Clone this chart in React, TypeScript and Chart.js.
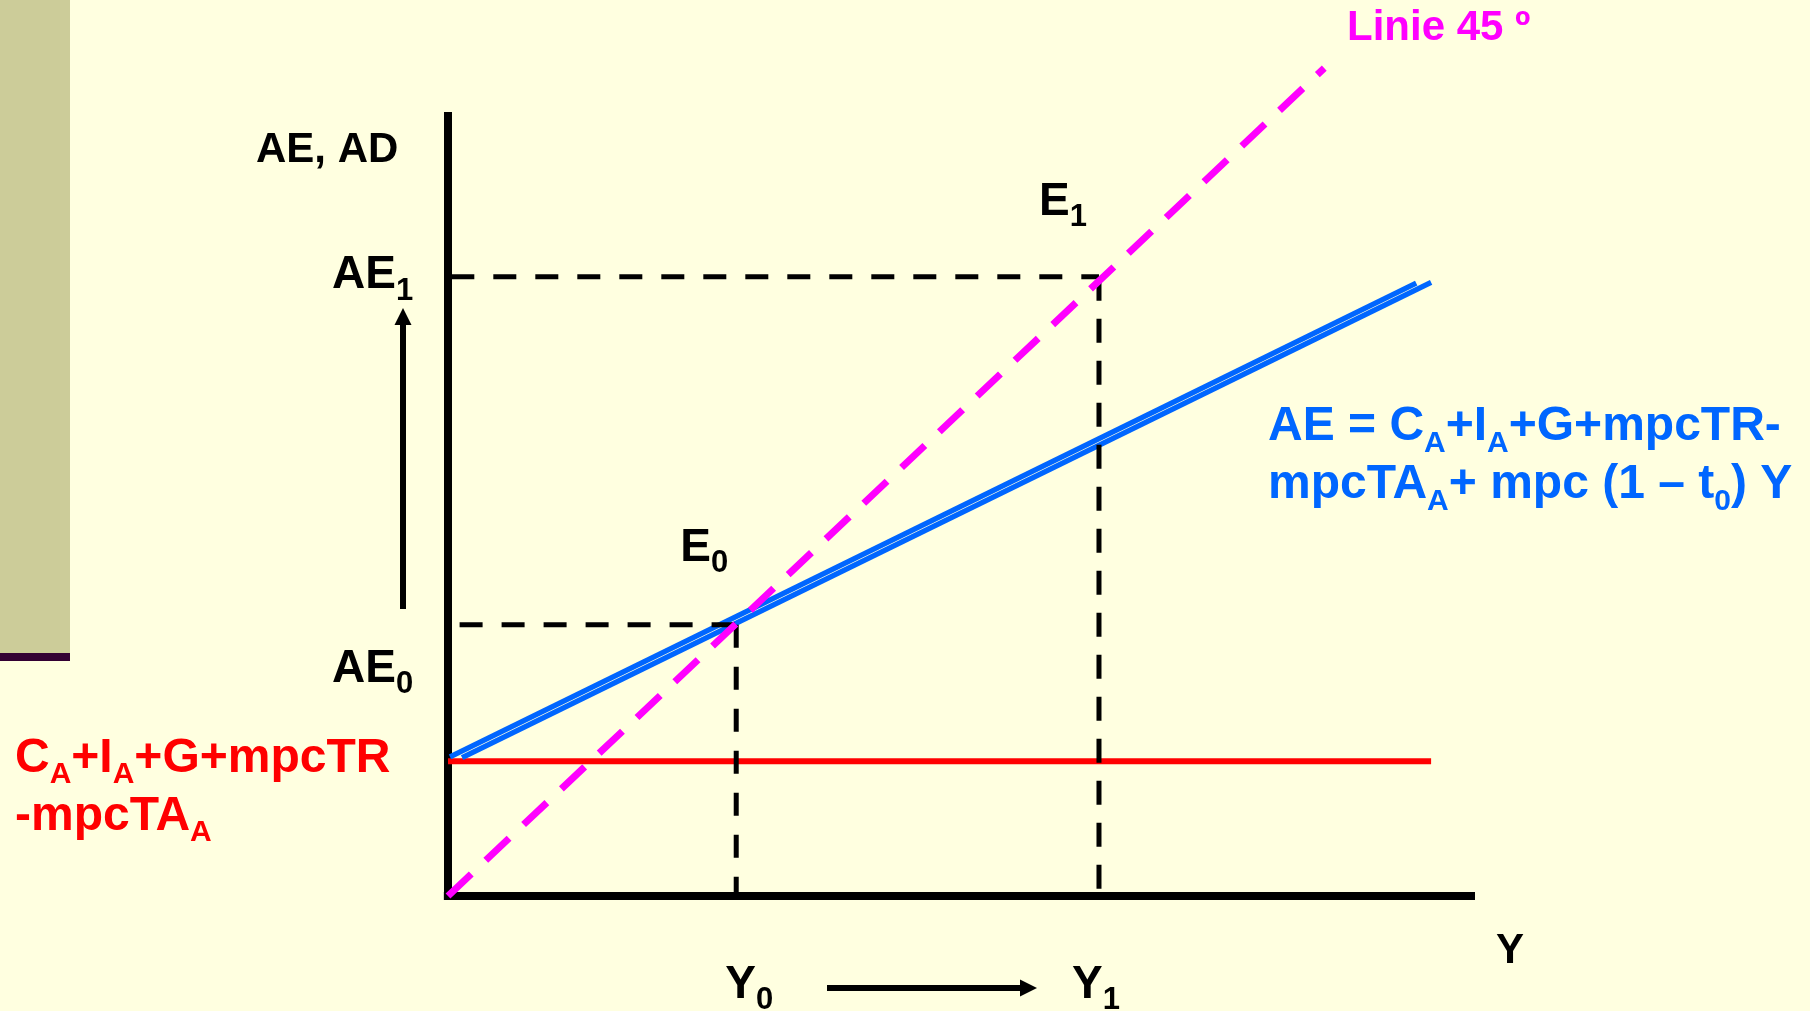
import React, { useEffect, useRef } from "react";
import { Chart, registerables } from "chart.js";

Chart.register(...registerables);

// ---- scale ranges (arbitrary output / expenditure units) ----
const X_MAX = 124;
const Y_MAX = 100;

// ---- equilibrium values ----
const Y0 = 34.8;
const AE0 = 34.6;
const Y1 = 78.6;
const AE1 = 79.0;

// ---- series ----
const axisYPoints = [{ x: 0, y: -0.5 }, { x: 0, y: 100 }];
const axisXPoints = [{ x: -0.5, y: 0 }, { x: 124, y: 0 }];
const autonomousPoints = [{ x: 0, y: 17.2 }, { x: 118.7, y: 17.2 }];
const aeUpperStrand = [{ x: 0.24, y: 17.74 }, { x: 116.9, y: 78.17 }];
const aeLowerStrand = [{ x: 1.7, y: 17.66 }, { x: 118.7, y: 78.27 }];
const line45Points = [{ x: 0, y: 0 }, { x: 105.8, y: 105.6 }];
const e0Horizontal = [{ x: 1.4, y: AE0 }, { x: Y0, y: AE0 }];
const e0Vertical = [{ x: Y0, y: AE0 }, { x: Y0, y: 0 }];
const e1Horizontal = [{ x: 0.4, y: AE1 }, { x: Y1, y: AE1 }];
const e1Vertical = [{ x: Y1, y: AE1 }, { x: Y1, y: 0 }];

// ---- texts ----
const axisTitleY = "AE, AD";
const axisTitleX = "Y";
const line45Label = "Linie 45 º";
const aeFormulaLine1 = [["AE = C", 0], ["A", 1], ["+I", 0], ["A", 1], ["+G+mpcTR-", 0]];
const aeFormulaLine2 = [["mpcTA", 0], ["A", 1], ["+ mpc (1 – t", 0], ["0", 1], [") Y", 0]];
const autoFormulaLine1 = [["C", 0], ["A", 1], ["+I", 0], ["A", 1], ["+G+mpcTR", 0]];
const autoFormulaLine2 = [["-mpcTA", 0], ["A", 1]];

const BG = "#FFFFE0";
const FONT = '"Liberation Sans", Arial, Helvetica, sans-serif';

function drawRich(
  ctx: CanvasRenderingContext2D,
  parts: any[],
  x: number,
  baseline: number,
  color: string,
  size: number,
  subSize: number,
  subDrop: number
) {
  ctx.fillStyle = color;
  ctx.textBaseline = "alphabetic";
  ctx.textAlign = "left";
  let cx = x;
  for (const [t, sub] of parts) {
    ctx.font = `bold ${sub ? subSize : size}px ${FONT}`;
    ctx.fillText(t, cx, sub ? baseline + subDrop : baseline);
    cx += ctx.measureText(t).width;
  }
}

function arrow(ctx: CanvasRenderingContext2D, x1: number, y1: number, x2: number, y2: number) {
  const ang = Math.atan2(y2 - y1, x2 - x1);
  const headLen = 17;
  const headHalf = 8.5;
  const bx = x2 - headLen * Math.cos(ang);
  const by = y2 - headLen * Math.sin(ang);
  ctx.strokeStyle = "#000";
  ctx.lineWidth = 6;
  ctx.lineCap = "butt";
  ctx.beginPath();
  ctx.moveTo(x1, y1);
  ctx.lineTo(bx, by);
  ctx.stroke();
  ctx.fillStyle = "#000";
  ctx.beginPath();
  ctx.moveTo(x2, y2);
  ctx.lineTo(bx + headHalf * Math.sin(ang), by - headHalf * Math.cos(ang));
  ctx.lineTo(bx - headHalf * Math.sin(ang), by + headHalf * Math.cos(ang));
  ctx.closePath();
  ctx.fill();
}

const overlayPlugin = {
  id: "overlay",
  beforeDraw(chart: any) {
    const ctx = chart.ctx as CanvasRenderingContext2D;
    ctx.save();
    ctx.fillStyle = BG;
    ctx.fillRect(0, 0, chart.width, chart.height);
    ctx.fillStyle = "#CCCC99";
    ctx.fillRect(0, 0, 70, 653);
    ctx.fillStyle = "#330033";
    ctx.fillRect(0, 653, 70, 8);
    ctx.restore();
  },
  afterDatasetsDraw(chart: any) {
    const ctx = chart.ctx as CanvasRenderingContext2D;
    const xs = chart.scales.x;
    const ys = chart.scales.y;
    const px0 = xs.getPixelForValue(Y0);
    const px1 = xs.getPixelForValue(Y1);
    const py0 = ys.getPixelForValue(AE0);
    const py1 = ys.getPixelForValue(AE1);
    ctx.save();
    // axis titles
    drawRich(ctx, [[axisTitleY, 0]], 256, 162, "#000", 42, 28, 12);
    drawRich(ctx, [[axisTitleX, 0]], 1496, 963, "#000", 42, 28, 12);
    // AE labels
    drawRich(ctx, [["AE", 0], ["1", 1]], 332, py1 + 11, "#000", 46, 31, 12);
    drawRich(ctx, [["AE", 0], ["0", 1]], 332, py0 + 57, "#000", 46, 31, 11);
    // E labels
    drawRich(ctx, [["E", 0], ["0", 1]], px0 - 56, py0 - 64, "#000", 46, 31, 11);
    drawRich(ctx, [["E", 0], ["1", 1]], px1 - 60, py1 - 62, "#000", 46, 31, 11);
    // Y labels
    drawRich(ctx, [["Y", 0], ["0", 1]], px0 - 11, 998, "#000", 46, 31, 11);
    drawRich(ctx, [["Y", 0], ["1", 1]], px1 - 27, 998, "#000", 46, 31, 11);
    // 45 line label
    drawRich(ctx, [[line45Label, 0]], 1347, 40, "#FF00FF", 42, 28, 12);
    // formulas
    drawRich(ctx, aeFormulaLine1, 1268, 440, "#0066FF", 48, 30, 12);
    drawRich(ctx, aeFormulaLine2, 1268, 498, "#0066FF", 48, 30, 12);
    drawRich(ctx, autoFormulaLine1, 15, 772, "#FF0000", 48, 30, 11);
    drawRich(ctx, autoFormulaLine2, 15, 830, "#FF0000", 48, 30, 11);
    // shift arrows
    arrow(ctx, 403, 609, 403, 308);
    arrow(ctx, 827, 988, 1037, 988);
    ctx.restore();
  },
};

function lineDs(data: any[], color: string, width: number, order: number, dash: number[] = []) {
  return {
    data,
    showLine: true,
    borderColor: color,
    backgroundColor: color,
    borderWidth: width,
    borderDash: dash,
    borderCapStyle: "butt" as const,
    pointRadius: 0,
    pointHoverRadius: 0,
    fill: false,
    clip: false as any,
    order,
  };
}

export default function App() {
  const ref = useRef<HTMLCanvasElement | null>(null);
  useEffect(() => {
    if (!ref.current) return;
    const chart = new Chart(ref.current, {
      type: "scatter",
      data: {
        datasets: [
          lineDs(line45Points, "#FF00FF", 7, 1, [32, 20]),
          lineDs(e0Horizontal, "#000000", 5, 2, [23, 19]),
          lineDs(e0Vertical, "#000000", 5, 2, [23, 19]),
          lineDs(e1Horizontal, "#000000", 5, 2, [23, 19]),
          lineDs(e1Vertical, "#000000", 5, 2, [24, 18]),
          lineDs(aeUpperStrand, "#0066FF", 5.3, 3),
          lineDs(aeLowerStrand, "#0066FF", 5.3, 3),
          lineDs(autonomousPoints, "#FF0000", 6, 4),
          lineDs(axisYPoints, "#000000", 8, 5),
          lineDs(axisXPoints, "#000000", 8, 5),
        ] as any,
      },
      options: {
        responsive: false,
        maintainAspectRatio: false,
        animation: false,
        devicePixelRatio: 1,
        events: [],
        layout: { padding: { left: 448, top: 112, right: 335, bottom: 115 } },
        plugins: { legend: { display: false }, tooltip: { enabled: false }, title: { display: false } },
        scales: {
          x: { type: "linear", min: 0, max: X_MAX, display: false },
          y: { type: "linear", min: 0, max: Y_MAX, display: false },
        },
      },
      plugins: [overlayPlugin],
    });
    return () => chart.destroy();
  }, []);
  return (
    <div style={{ position: "fixed", left: 0, top: 0, width: 1810, height: 1011, background: BG }}>
      <canvas ref={ref} width={1810} height={1011} style={{ display: "block" }} />
    </div>
  );
}
